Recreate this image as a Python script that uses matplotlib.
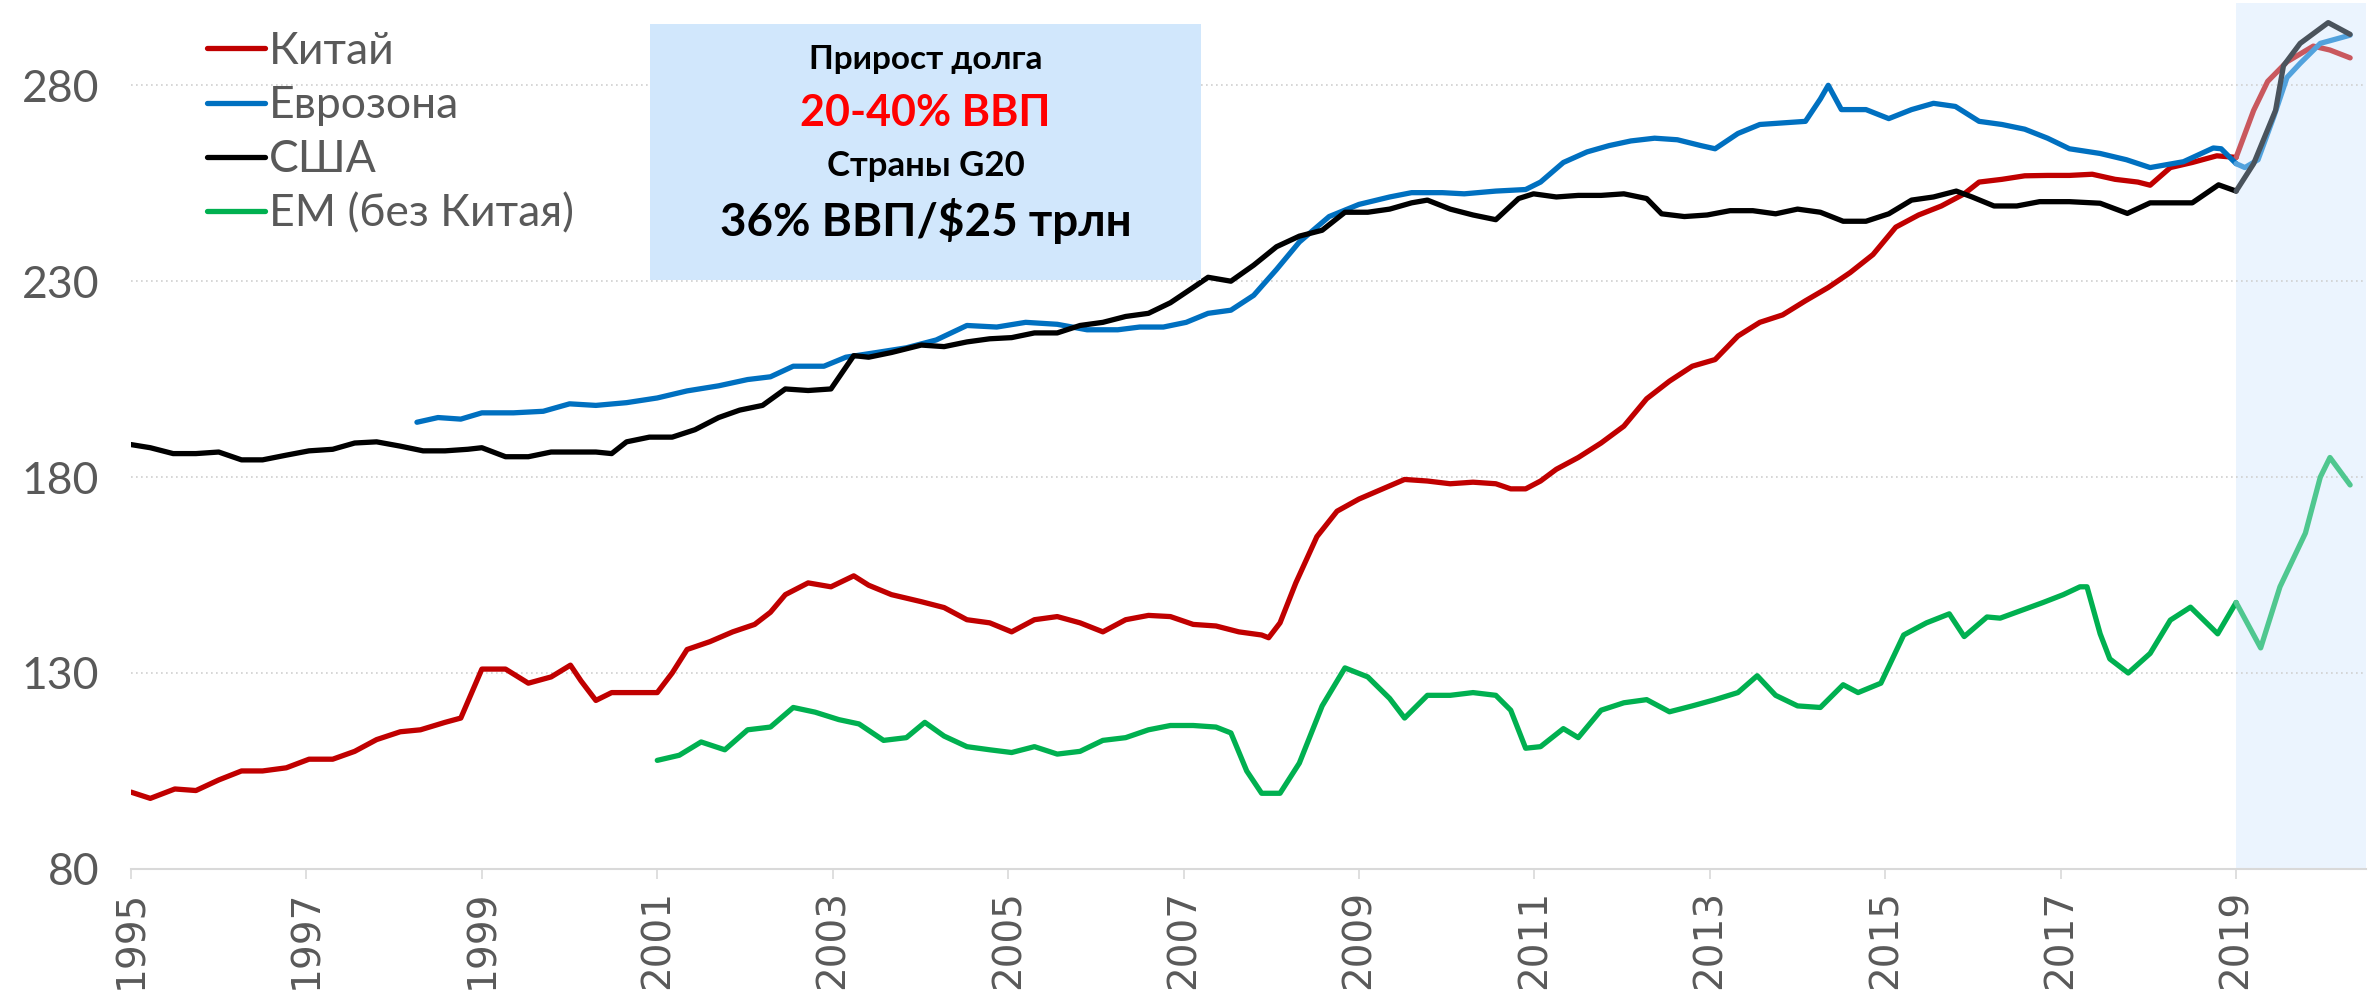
import matplotlib
matplotlib.use("Agg")
import matplotlib.pyplot as plt
from matplotlib.patches import Rectangle
import numpy as np

# Данные
china_x = [1995.0, 1995.22, 1995.5, 1995.74, 1996.0, 1996.26, 1996.5, 1996.77, 1997.03, 1997.3,
           1997.55, 1997.8, 1998.07, 1998.3, 1998.58, 1998.76, 1999.0, 1999.27, 1999.53, 1999.79,
           2000.01, 2000.13, 2000.3, 2000.48, 2000.74, 2001.0, 2001.17, 2001.34, 2001.6, 2001.86,
           2002.11, 2002.29, 2002.46, 2002.72, 2002.98, 2003.24, 2003.41, 2003.67, 2004.01, 2004.27,
           2004.53, 2004.79, 2005.04, 2005.3, 2005.56, 2005.82, 2006.08, 2006.34, 2006.6, 2006.85,
           2007.11, 2007.37, 2007.63, 2007.89, 2007.97, 2008.1, 2008.28, 2008.52, 2008.75, 2009.0,
           2009.27, 2009.52, 2009.78, 2010.04, 2010.3, 2010.56, 2010.73, 2010.9, 2011.07, 2011.25,
           2011.5, 2011.76, 2012.02, 2012.28, 2012.54, 2012.8, 2013.06, 2013.32, 2013.57, 2013.83,
           2014.09, 2014.35, 2014.6, 2014.86, 2015.12, 2015.38, 2015.64, 2015.9, 2016.07, 2016.33,
           2016.59, 2016.85, 2017.1, 2017.36, 2017.62, 2017.88, 2018.02, 2018.25, 2018.5, 2018.78,
           2019.0, 2019.2, 2019.36, 2019.58, 2019.88, 2020.07, 2020.3]
china_y = [99.6, 98, 100.4, 100, 102.7, 105, 105, 105.8, 108, 108,
           110, 113, 115, 115.5, 117.4, 118.5, 131, 131, 127.4, 129,
           132, 128, 123, 125, 125, 125, 130, 136, 138, 140.5,
           142.4, 145.5, 150, 153, 152, 154.8, 152.4, 150, 148.2, 146.7,
           143.6, 142.8, 140.5, 143.6, 144.4, 142.8, 140.5, 143.6, 144.7, 144.4,
           142.4, 142, 140.5, 139.7, 139, 142.8, 153, 164.8, 171.3, 174.4,
           177, 179.4, 179, 178.3, 178.7, 178.3, 177, 177, 179, 182,
           185, 188.7, 193, 200, 204.5, 208.3, 210, 216, 219.5, 221.4,
           225, 228.4, 232.2, 236.8, 243.8, 246.9, 249.2, 252.3, 255.3, 256,
           256.9, 257, 257, 257.3, 256, 255.3, 254.5, 259, 260.3, 262,
           261.6, 273.6, 281, 286, 290, 289, 287]

euro_x = [1998.26, 1998.5, 1998.76, 1999.0, 1999.36, 1999.7, 2000.0, 2000.3, 2000.65, 2001.0,
          2001.34, 2001.7, 2002.03, 2002.29, 2002.55, 2002.9, 2003.15, 2003.5, 2003.84, 2004.18,
          2004.53, 2004.87, 2005.2, 2005.56, 2005.9, 2006.25, 2006.5, 2006.77, 2007.03, 2007.28,
          2007.54, 2007.8, 2008.06, 2008.32, 2008.66, 2009.0, 2009.35, 2009.6, 2009.95, 2010.2,
          2010.56, 2010.9, 2011.07, 2011.33, 2011.6, 2011.85, 2012.1, 2012.37, 2012.63, 2012.9,
          2013.06, 2013.32, 2013.57, 2013.83, 2014.09, 2014.26, 2014.35, 2014.5, 2014.78, 2015.04,
          2015.3, 2015.55, 2015.8, 2016.07, 2016.33, 2016.59, 2016.85, 2017.1, 2017.45, 2017.75,
          2018.02, 2018.4, 2018.74, 2018.83, 2019.0, 2019.1, 2019.25, 2019.43, 2019.58, 2019.73,
          2019.96, 2020.3]
euro_y = [194, 195.2, 194.8, 196.4, 196.4, 196.8, 198.7, 198.3, 199, 200.2,
          202, 203.3, 204.9, 205.6, 208.3, 208.3, 210.6, 211.8, 213, 215,
          218.7, 218.3, 219.5, 219, 217.6, 217.6, 218.3, 218.3, 219.5, 221.8,
          222.6, 226.4, 233, 240, 246.5, 249.6, 251.5, 252.6, 252.6, 252.3,
          253, 253.4, 255.3, 260.3, 263, 264.6, 265.8, 266.5, 266.1, 264.6,
          263.8, 267.7, 270, 270.4, 270.8, 276.5, 280, 273.8, 273.8, 271.5,
          273.8, 275.4, 274.6, 270.8, 270, 268.8, 266.5, 263.8, 262.6, 261,
          259, 260.5, 264, 263.8, 260, 259, 261, 272, 282, 285.6,
          290.7, 292.8]

usa_x = [1995.0, 1995.22, 1995.48, 1995.74, 1996.0, 1996.26, 1996.5, 1996.77, 1997.03, 1997.3,
         1997.55, 1997.8, 1998.07, 1998.33, 1998.58, 1998.84, 1999.0, 1999.27, 1999.53, 1999.79,
         2000.05, 2000.3, 2000.48, 2000.65, 2000.91, 2001.17, 2001.43, 2001.7, 2001.94, 2002.2,
         2002.46, 2002.72, 2002.98, 2003.24, 2003.41, 2003.67, 2004.01, 2004.27, 2004.53, 2004.79,
         2005.04, 2005.3, 2005.56, 2005.82, 2006.08, 2006.34, 2006.6, 2006.85, 2007.11, 2007.28,
         2007.54, 2007.8, 2008.06, 2008.32, 2008.58, 2008.84, 2009.1, 2009.35, 2009.6, 2009.78,
         2010.04, 2010.3, 2010.56, 2010.82, 2010.99, 2011.25, 2011.5, 2011.76, 2012.02, 2012.28,
         2012.45, 2012.71, 2012.97, 2013.23, 2013.49, 2013.75, 2014.0, 2014.26, 2014.52, 2014.78,
         2015.04, 2015.3, 2015.55, 2015.81, 2015.99, 2016.24, 2016.5, 2016.76, 2017.1, 2017.45,
         2017.76, 2018.02, 2018.5, 2018.8, 2019.0, 2019.2, 2019.45, 2019.54, 2019.73, 2020.05,
         2020.3]
usa_y = [188.3, 187.5, 186, 186, 186.4, 184.4, 184.4, 185.6, 186.7, 187.1,
         188.7, 189, 187.9, 186.7, 186.7, 187.1, 187.5, 185.2, 185.2, 186.4,
         186.4, 186.4, 186, 189, 190.2, 190.2, 192.1, 195.2, 197.1, 198.3,
         202.5, 202.1, 202.5, 211, 210.6, 211.8, 213.7, 213.3, 214.5, 215.3,
         215.6, 216.8, 216.8, 218.7, 219.5, 221, 221.8, 224.5, 228.4, 231,
         230, 234.1, 238.8, 241.5, 243, 247.6, 247.6, 248.4, 250, 250.7,
         248.4, 246.9, 245.7, 251.1, 252.3, 251.5, 251.9, 251.9, 252.3, 251.1,
         247.2, 246.5, 246.9, 248, 248, 247.2, 248.4, 247.6, 245.3, 245.3,
         247.2, 250.7, 251.5, 253, 251.5, 249.2, 249.2, 250.3, 250.3, 249.9,
         247.3, 250, 250, 254.6, 253, 260, 273.6, 285, 290.7, 296,
         293]

em_x = [2001.0, 2001.25, 2001.5, 2001.77, 2002.03, 2002.29, 2002.55, 2002.8, 2003.07, 2003.3,
        2003.58, 2003.84, 2004.05, 2004.27, 2004.53, 2004.79, 2005.04, 2005.3, 2005.56, 2005.82,
        2006.08, 2006.34, 2006.6, 2006.85, 2007.11, 2007.37, 2007.54, 2007.72, 2007.89, 2008.1,
        2008.32, 2008.58, 2008.84, 2009.1, 2009.35, 2009.52, 2009.78, 2010.04, 2010.3, 2010.56,
        2010.73, 2010.9, 2011.07, 2011.33, 2011.5, 2011.76, 2012.02, 2012.28, 2012.54, 2012.8,
        2013.06, 2013.32, 2013.54, 2013.75, 2014.0, 2014.26, 2014.52, 2014.69, 2014.95, 2015.21,
        2015.47, 2015.73, 2015.9, 2016.16, 2016.31, 2016.8, 2017.03, 2017.22, 2017.3, 2017.45,
        2017.56, 2017.77, 2018.02, 2018.25, 2018.48, 2018.79, 2019.0, 2019.28, 2019.5, 2019.79,
        2019.96, 2020.07, 2020.3]
em_y = [107.7, 109, 112.4, 110.4, 115.5, 116.2, 121.2, 120, 118.1, 117,
        112.8, 113.5, 117.4, 113.9, 111.2, 110.4, 109.7, 111.2, 109.3, 110,
        112.8, 113.5, 115.5, 116.6, 116.6, 116.2, 114.7, 105, 99.3, 99.3,
        107, 121.6, 131.3, 129, 123.5, 118.5, 124.3, 124.3, 125, 124.3,
        120.5, 110.8, 111.2, 115.8, 113.5, 120.5, 122.4, 123.2, 120.1, 121.6,
        123.2, 125, 129.3, 124.3, 121.6, 121.2, 127, 125, 127.4, 139.7,
        142.8, 145.1, 139.3, 144.3, 144, 148, 150, 152, 152, 140,
        133.6, 130, 135, 143.5, 146.8, 140, 148, 136.4, 152, 165.7,
        180, 185, 178]

series = [
    ("Китай", china_x, china_y, "#C00000", "#C9585E"),
    ("Еврозона", euro_x, euro_y, "#0070C0", "#52A2DD"),
    ("США", usa_x, usa_y, "#000000", "#4A535C"),
    ("ЕМ (без Китая)", em_x, em_y, "#00B050", "#4FC78F"),
]

font = ["Lato", "DejaVu Sans"]

fig = plt.figure(figsize=(23.69, 10.08), dpi=100)
ax = fig.add_axes([0.0553, 0.138, 0.9434, 0.859])

ax.axvspan(2019, 2020.48, color="#EBF4FE", zorder=0, lw=0)

for name, xs, ys, c, c_light in series:
    xs = np.array(xs)
    ys = np.array(ys)
    before = xs <= 2019.0
    after = xs >= 2019.0
    ax.plot(xs[before], ys[before], color=c, lw=3.8, label=name,
            solid_joinstyle="round", solid_capstyle="round", zorder=3)
    ax.plot(xs[after], ys[after], color=c_light, lw=3.8,
            solid_joinstyle="round", solid_capstyle="round", zorder=3)

ax.set_xlim(1995, 2020.48)
ax.set_ylim(80, 301)
ax.set_yticks([80, 130, 180, 230, 280])
ax.set_xticks(range(1995, 2020, 2))
ax.grid(axis="y", linestyle=(0, (1, 2)), color="#D0D0D0", lw=1.2)
ax.set_axisbelow(True)

for s in ["top", "right", "left"]:
    ax.spines[s].set_visible(False)
ax.spines["bottom"].set_color("#D9D9D9")
ax.spines["bottom"].set_linewidth(1.5)

ax.tick_params(axis="y", length=0, pad=23, labelcolor="#595959")
ax.tick_params(axis="x", length=7, width=1.2, color="#D9D9D9", pad=8,
               labelcolor="#595959", labelsize=28, labelrotation=90)
for lab in ax.get_yticklabels():
    lab.set_fontfamily(font)
    lab.set_fontsize(32)

leg = ax.legend(loc="upper left", bbox_to_anchor=(0.034, 0.968), frameon=False,
                handlelength=1.3, handletextpad=0.1, labelspacing=0.3,
                borderaxespad=0, borderpad=0,
                prop={"family": font, "size": 32})
for t in leg.get_texts():
    t.set_color("#595959")

# Блок с текстом
box = Rectangle((0.2744, 0.722), 0.2326, 0.254, transform=fig.transFigure,
                facecolor="#D1E7FC", edgecolor="none", zorder=10)
fig.patches.append(box)
cx = 0.2744 + 0.2326 / 2
fig.text(cx, 1 - 60 / 1008, "Прирост долга", ha="center", va="center",
         fontsize=24, fontweight="bold", family=font, zorder=11)
fig.text(cx, 1 - 113 / 1008, "20-40% ВВП", ha="center", va="center",
         fontsize=31, fontweight="bold", color="#FF0000", family=font, zorder=11)
fig.text(cx, 1 - 166 / 1008, "Страны G20", ha="center", va="center",
         fontsize=25, fontweight="bold", family=font, zorder=11)
fig.text(cx, 1 - 221 / 1008, "36% ВВП/$25 трлн", ha="center", va="center",
         fontsize=33, fontweight="bold", family=font, zorder=11)

fig.savefig("out.png", dpi=100)
